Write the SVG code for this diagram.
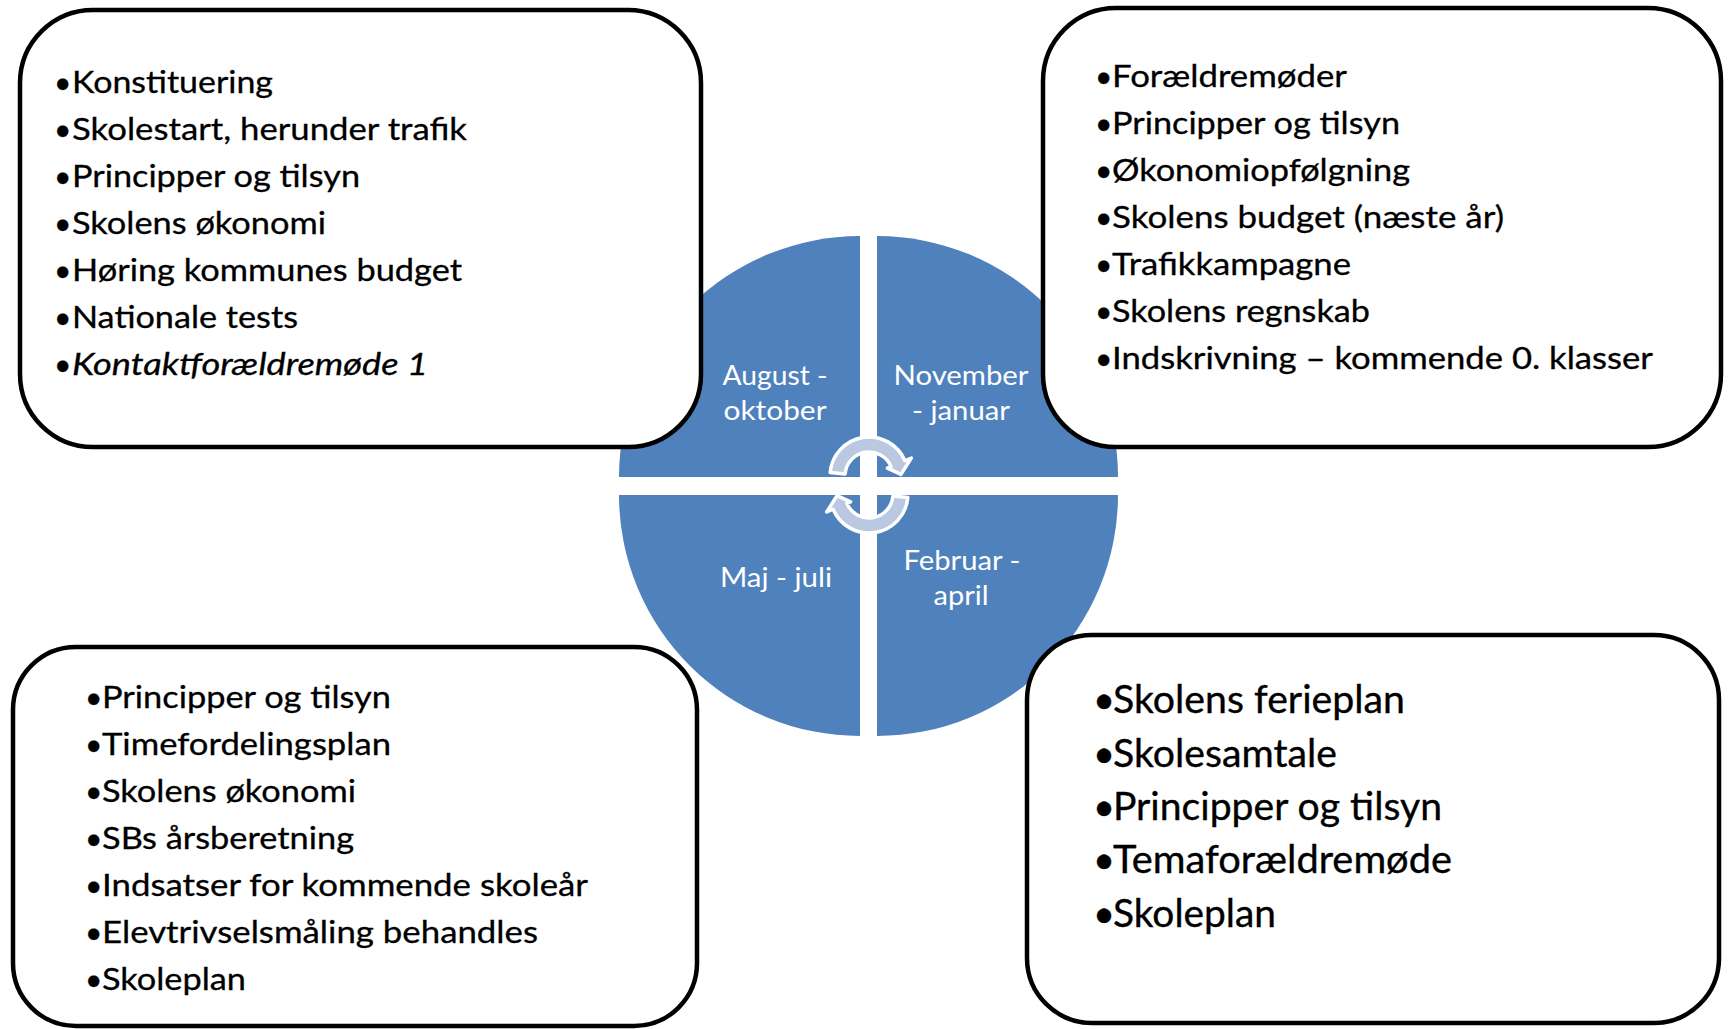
<svg xmlns="http://www.w3.org/2000/svg" xmlns:xlink="http://www.w3.org/1999/xlink" width="1729" height="1029" viewBox="0 0 1729 1029">
<style>
.q{fill:#4F81BD;}
.lbl{font-family:Lato,"Liberation Sans",sans-serif;font-size:27px;fill:#FFFFFF;text-anchor:middle;}
.box{fill:#FFFFFF;stroke:#000000;stroke-width:4.5;}
.t{font-family:Lato,"Liberation Sans",sans-serif;font-size:30px;fill:#000000;stroke:#000000;stroke-width:0.3;}
.tb{font-family:Lato,"Liberation Sans",sans-serif;font-size:38px;fill:#000000;stroke:#000000;stroke-width:0.35;}
.arr{fill:#BAC8E1;stroke:#FFFFFF;stroke-width:3.5;stroke-linejoin:round;}
</style>
<defs>
<path id="carrow" d="M830.15,472.60 A39,39 0 0 1 904.90,460.76 L911.34,458.03 L900.96,474.33 L887.41,468.19 L891.09,466.62 A24,24 0 0 0 845.09,473.91 Z"/>
</defs>
<rect width="1729" height="1029" fill="#FFFFFF"/>
<g id="cycle">
<path class="q" d="M860,477 L619,477 A241,241 0 0 1 860,236 Z"/>
<path class="q" d="M877,477 L877,236 A241,241 0 0 1 1118,477 Z"/>
<path class="q" d="M877,495 L1118,495 A241,241 0 0 1 877,736 Z"/>
<path class="q" d="M860,495 L860,736 A241,241 0 0 1 619,495 Z"/>
</g>
<g id="box-aug-okt">
<rect class="box" x="20" y="10" width="681" height="437" rx="73" ry="73"/>
<text class="t" x="54" y="93.3">•</text><text class="t" x="72" y="93.3" textLength="201" lengthAdjust="spacingAndGlyphs">Konstituering</text>
<text class="t" x="54" y="140.3">•</text><text class="t" x="72" y="140.3" textLength="395" lengthAdjust="spacingAndGlyphs">Skolestart, herunder trafik</text>
<text class="t" x="54" y="187.3">•</text><text class="t" x="72" y="187.3" textLength="288" lengthAdjust="spacingAndGlyphs">Principper og tilsyn</text>
<text class="t" x="54" y="234.3">•</text><text class="t" x="72" y="234.3" textLength="254" lengthAdjust="spacingAndGlyphs">Skolens økonomi</text>
<text class="t" x="54" y="281.3">•</text><text class="t" x="72" y="281.3" textLength="390" lengthAdjust="spacingAndGlyphs">Høring kommunes budget</text>
<text class="t" x="54" y="328.3">•</text><text class="t" x="72" y="328.3" textLength="226" lengthAdjust="spacingAndGlyphs">Nationale tests</text>
<text class="t" x="54" y="375.3">•</text><text class="t" x="72" y="375.3" textLength="356" lengthAdjust="spacingAndGlyphs" font-style="italic">Kontaktforældremøde 1</text>
</g>
<g id="box-nov-jan">
<rect class="box" x="1043" y="8" width="678" height="439" rx="73" ry="73"/>
<text class="t" x="1095" y="86.7">•</text><text class="t" x="1112" y="86.7" textLength="235" lengthAdjust="spacingAndGlyphs">Forældremøder</text>
<text class="t" x="1095" y="133.7">•</text><text class="t" x="1112" y="133.7" textLength="288" lengthAdjust="spacingAndGlyphs">Principper og tilsyn</text>
<text class="t" x="1095" y="180.7">•</text><text class="t" x="1112" y="180.7" textLength="298" lengthAdjust="spacingAndGlyphs">Økonomiopfølgning</text>
<text class="t" x="1095" y="227.7">•</text><text class="t" x="1112" y="227.7" textLength="392" lengthAdjust="spacingAndGlyphs">Skolens budget (næste år)</text>
<text class="t" x="1095" y="274.7">•</text><text class="t" x="1112" y="274.7" textLength="239" lengthAdjust="spacingAndGlyphs">Trafikkampagne</text>
<text class="t" x="1095" y="321.7">•</text><text class="t" x="1112" y="321.7" textLength="258" lengthAdjust="spacingAndGlyphs">Skolens regnskab</text>
<text class="t" x="1095" y="368.7">•</text><text class="t" x="1112" y="368.7" textLength="541" lengthAdjust="spacingAndGlyphs">Indskrivning – kommende 0. klasser</text>
</g>
<g id="box-maj-jul">
<rect class="box" x="13" y="647" width="684" height="379" rx="63" ry="63"/>
<text class="t" x="85" y="708.3">•</text><text class="t" x="102" y="708.3" textLength="289" lengthAdjust="spacingAndGlyphs">Principper og tilsyn</text>
<text class="t" x="85" y="755.3">•</text><text class="t" x="102" y="755.3" textLength="289" lengthAdjust="spacingAndGlyphs">Timefordelingsplan</text>
<text class="t" x="85" y="802.3">•</text><text class="t" x="102" y="802.3" textLength="254" lengthAdjust="spacingAndGlyphs">Skolens økonomi</text>
<text class="t" x="85" y="849.3">•</text><text class="t" x="102" y="849.3" textLength="252" lengthAdjust="spacingAndGlyphs">SBs årsberetning</text>
<text class="t" x="85" y="896.3">•</text><text class="t" x="102" y="896.3" textLength="486" lengthAdjust="spacingAndGlyphs">Indsatser for kommende skoleår</text>
<text class="t" x="85" y="943.3">•</text><text class="t" x="102" y="943.3" textLength="436" lengthAdjust="spacingAndGlyphs">Elevtrivselsmåling behandles</text>
<text class="t" x="85" y="990.3">•</text><text class="t" x="102" y="990.3" textLength="144" lengthAdjust="spacingAndGlyphs">Skoleplan</text>
</g>
<g id="box-feb-apr">
<rect class="box" x="1027" y="635" width="692" height="388" rx="65" ry="65"/>
<text class="tb" x="1093" y="713.3">•</text><text class="tb" x="1113" y="713.3" textLength="292" lengthAdjust="spacingAndGlyphs">Skolens ferieplan</text>
<text class="tb" x="1093" y="766.6">•</text><text class="tb" x="1113" y="766.6" textLength="224" lengthAdjust="spacingAndGlyphs">Skolesamtale</text>
<text class="tb" x="1093" y="819.9">•</text><text class="tb" x="1113" y="819.9" textLength="329" lengthAdjust="spacingAndGlyphs">Principper og tilsyn</text>
<text class="tb" x="1093" y="873.2">•</text><text class="tb" x="1113" y="873.2" textLength="339" lengthAdjust="spacingAndGlyphs">Temaforældremøde</text>
<text class="tb" x="1093" y="926.5">•</text><text class="tb" x="1113" y="926.5" textLength="163" lengthAdjust="spacingAndGlyphs">Skoleplan</text>
</g>
<g id="labels">
<text class="lbl" x="775" y="385" textLength="105" lengthAdjust="spacingAndGlyphs">August -</text>
<text class="lbl" x="775" y="420" textLength="103" lengthAdjust="spacingAndGlyphs">oktober</text>
<text class="lbl" x="961" y="385" textLength="135" lengthAdjust="spacingAndGlyphs">November</text>
<text class="lbl" x="961" y="420" textLength="98" lengthAdjust="spacingAndGlyphs">- januar</text>
<text class="lbl" x="776" y="587" textLength="112" lengthAdjust="spacingAndGlyphs">Maj - juli</text>
<text class="lbl" x="962" y="570" textLength="117" lengthAdjust="spacingAndGlyphs">Februar -</text>
<text class="lbl" x="961" y="605" textLength="55" lengthAdjust="spacingAndGlyphs">april</text>
</g>
<g id="connectors">
<use xlink:href="#carrow" class="arr"/>
<use xlink:href="#carrow" class="arr" transform="rotate(180 869 485)"/>
</g>
</svg>
